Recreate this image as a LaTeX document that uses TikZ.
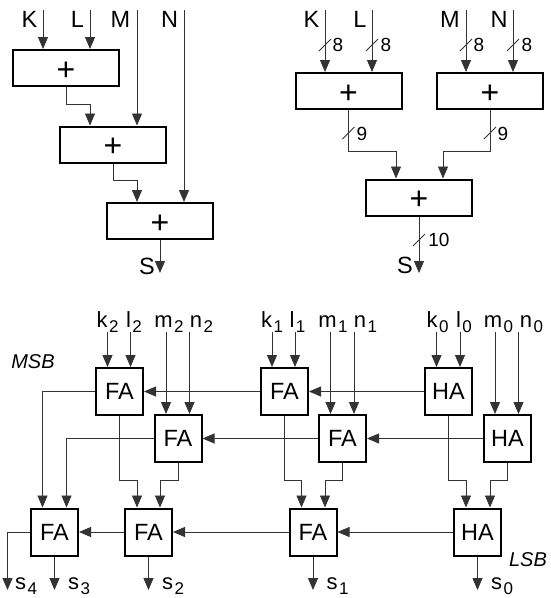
\documentclass[tikz,border=0pt]{standalone}
\usepackage{fontspec}
\setmainfont{Liberation Sans}
\usetikzlibrary{arrows.meta}
\newcommand{\sublabel}[2]{#1\kern1.5pt\raisebox{-5pt}{\fontsize{17}{17}\selectfont #2}}
\begin{document}
\begin{tikzpicture}[x=1pt, y=-1pt,
    adder/.style={rectangle, draw, line width=2pt, minimum width=106pt,
      minimum height=36pt, inner sep=0pt, text height=24pt, text depth=0pt,
      font=\fontsize{32}{32}\selectfont},
    cell/.style={rectangle, draw, line width=2pt, minimum size=47pt,
      inner sep=0pt, font=\fontsize{23.5}{23.5}\selectfont},
    wire/.style={line width=0.8pt, black!80},
    bus/.style={wire, ->, >={Triangle[length=12pt, width=10pt]}},
    portlabel/.style={inner sep=0pt, anchor=base, font=\fontsize{23.5}{23.5}\selectfont},
    buslabel/.style={inner sep=0pt, anchor=base, font=\fontsize{19}{19}\selectfont},
    bitlabel/.style={inner sep=0pt, anchor=base, font=\fontsize{22}{22}\selectfont},
    sidelabel/.style={inner sep=0pt, font=\itshape\fontsize{20}{20}\selectfont}]
  \useasboundingbox (0,0) rectangle (550,598);

  % serial adders, top left
  \begin{scope}[every node/.style={adder}]
    \node (a1) at (66,68) {+}; \node (a2) at (113,144.5) {+};
    \node (a3) at (160,221) {+};
  \end{scope}
  \begin{scope}[every node/.style={portlabel}]
    \node (tK) at (29.5,27) {K}; \node (tL) at (77.5,27) {L};
    \node (tM) at (120.5,27) {M}; \node (tN) at (169.5,27) {N};
    \node (tS) at (147,274) {S};
  \end{scope}
  \coordinate (iK) at (43,10); \coordinate (iL) at (90,10);
  \coordinate (iM) at (137,10); \coordinate (iN) at (184,10);
  \coordinate (e1) at (90,104); \coordinate (e2) at (137,180);
  \coordinate (oS) at (160,273);
  \begin{scope}[bus]
    \draw (iK) -- (iK |- a1.north); \draw (iL) -- (iL |- a1.north);
    \draw (iM) -- (iM |- a2.north); \draw (iN) -- (iN |- a3.north);
    \draw (a1.south) |- (e1) -- (e1 |- a2.north);
    \draw (a2.south) |- (e2) -- (e2 |- a3.north);
    \draw (a3.south) -- (oS);
  \end{scope}

  % tree of adders, top right
  \begin{scope}[every node/.style={adder}]
    \node (b1) at (348.5,91) {+}; \node (b2) at (490,91) {+};
    \node (b3) at (419,197.5) {+};
  \end{scope}
  \begin{scope}[every node/.style={portlabel}]
    \node (uK) at (311.5,27) {K}; \node (uL) at (360,27) {L};
    \node (uM) at (450,27) {M}; \node (uN) at (499,27) {N};
    \node (uS) at (405,273) {S};
  \end{scope}
  \begin{scope}[every node/.style={buslabel}]
    \node (w1) at (338,51.5) {8}; \node (w2) at (386,51.5) {8};
    \node (w3) at (479,51.5) {8}; \node (w4) at (527,51.5) {8};
    \node (w5) at (362,140.5) {9}; \node (w6) at (503,140.5) {9};
    \node (w7) at (439,246) {10};
  \end{scope}
  \coordinate (jK) at (325,10); \coordinate (jL) at (372,10);
  \coordinate (jM) at (466,10); \coordinate (jN) at (513,10);
  \coordinate (f1) at (396,151); \coordinate (f2) at (443,151);
  \coordinate (pS) at (419,273);
  \begin{scope}[bus]
    \draw (jK) -- (jK |- b1.north); \draw (jL) -- (jL |- b1.north);
    \draw (jM) -- (jM |- b2.north); \draw (jN) -- (jN |- b2.north);
    \draw (b1.south) |- (f1) -- (f1 |- b3.north);
    \draw (b2.south) |- (f2) -- (f2 |- b3.north);
    \draw (b3.south) -- (pS);
  \end{scope}
  \begin{scope}[wire]
    \draw (325,45) ++(-6,6) -- ++(12,-12); \draw (372,45) ++(-6,6) -- ++(12,-12);
    \draw (466,45) ++(-6,6) -- ++(12,-12); \draw (513,45) ++(-6,6) -- ++(12,-12);
    \draw (348.5,133) ++(-6,6) -- ++(12,-12); \draw (490,133) ++(-6,6) -- ++(12,-12);
    \draw (419,240) ++(-6,6) -- ++(12,-12);
  \end{scope}

  % bit level cells
  \begin{scope}[every node/.style={cell}]
    \node (t2) at (119.5,391.5) {FA}; \node (t1) at (284.5,391.5) {FA};
    \node (t0) at (448.5,391.5) {HA};
    \node (m2) at (178,438.5) {FA}; \node (m1) at (342.5,438.5) {FA};
    \node (m0) at (507.5,438.5) {HA};
    \node (r3) at (54.5,532) {FA}; \node (r2) at (148.5,532) {FA};
    \node (r1) at (313,532) {FA}; \node (r0) at (477.5,532) {HA};
  \end{scope}
  \begin{scope}[every node/.style={bitlabel}]
    \node (k2) at (107.5,327) {\sublabel{k}{2}};
    \node (l2) at (134,327) {\sublabel{l}{2}};
    \node (m2t) at (169,327) {\sublabel{m}{2}};
    \node (n2) at (201.5,327) {\sublabel{n}{2}};
    \node (k1) at (272,327) {\sublabel{k}{1}};
    \node (l1) at (297.5,327) {\sublabel{l}{1}};
    \node (m1t) at (333,327) {\sublabel{m}{1}};
    \node (n1) at (365.5,327) {\sublabel{n}{1}};
    \node (k0) at (437.5,327) {\sublabel{k}{0}};
    \node (l0) at (464,327) {\sublabel{l}{0}};
    \node (m0t) at (498.5,327) {\sublabel{m}{0}};
    \node (n0) at (531.5,327) {\sublabel{n}{0}};
    \node (s4) at (26,589.5) {\sublabel{s}{4}};
    \node (s3) at (79,589.5) {\sublabel{s}{3}};
    \node (s2) at (173,589.5) {\sublabel{s}{2}};
    \node (s1) at (337.5,589.5) {\sublabel{s}{1}};
    \node (s0) at (502,589.5) {\sublabel{s}{0}};
  \end{scope}
  \node[sidelabel] (msb) at (33,361.5) {MSB};
  \node[sidelabel] (lsb) at (528,560) {LSB};

  \coordinate (i1) at (107.5,332); \coordinate (i2) at (130.5,332);
  \coordinate (i3) at (166,332); \coordinate (i4) at (189.5,332);
  \coordinate (i5) at (272,332); \coordinate (i6) at (295,332);
  \coordinate (i7) at (330.5,332); \coordinate (i8) at (354,332);
  \coordinate (i9) at (436.5,332); \coordinate (i10) at (460,332);
  \coordinate (i11) at (495,332); \coordinate (i12) at (518.5,332);
  \coordinate (c1) at (42.5,420); \coordinate (c2) at (66.5,420);
  \coordinate (g1) at (137,480); \coordinate (g2) at (160,480);
  \coordinate (g3) at (301.5,480); \coordinate (g4) at (325,480);
  \coordinate (g5) at (466,480); \coordinate (g6) at (490,480);
  \coordinate (o4) at (7.5,590); \coordinate (o3) at (54.5,590);
  \coordinate (o2) at (148.5,590); \coordinate (o1) at (313,590);
  \coordinate (o0) at (477.5,590);
  \begin{scope}[bus]
    \draw (i1) -- (i1 |- t2.north); \draw (i2) -- (i2 |- t2.north);
    \draw (i3) -- (i3 |- m2.north); \draw (i4) -- (i4 |- m2.north);
    \draw (i5) -- (i5 |- t1.north); \draw (i6) -- (i6 |- t1.north);
    \draw (i7) -- (i7 |- m1.north); \draw (i8) -- (i8 |- m1.north);
    \draw (i9) -- (i9 |- t0.north); \draw (i10) -- (i10 |- t0.north);
    \draw (i11) -- (i11 |- m0.north); \draw (i12) -- (i12 |- m0.north);

    \draw (t0) -- (t1); \draw (t1) -- (t2);
    \draw (m0) -- (m1); \draw (m1) -- (m2);
    \draw (r0) -- (r1); \draw (r1) -- (r2); \draw (r2) -- (r3);

    \draw (t2.west) -| (c1 |- r3.north); \draw (m2.west) -| (c2 |- r3.north);
    \draw (t2.south) |- (g1) -- (g1 |- r2.north);
    \draw (m2.south) |- (g2) -- (g2 |- r2.north);
    \draw (t1.south) |- (g3) -- (g3 |- r1.north);
    \draw (m1.south) |- (g4) -- (g4 |- r1.north);
    \draw (t0.south) |- (g5) -- (g5 |- r0.north);
    \draw (m0.south) |- (g6) -- (g6 |- r0.north);

    \draw (r3.west) -| (o4); \draw (r3.south) -- (o3);
    \draw (r2.south) -- (o2); \draw (r1.south) -- (o1);
    \draw (r0.south) -- (o0);
  \end{scope}
\end{tikzpicture}
\end{document}
